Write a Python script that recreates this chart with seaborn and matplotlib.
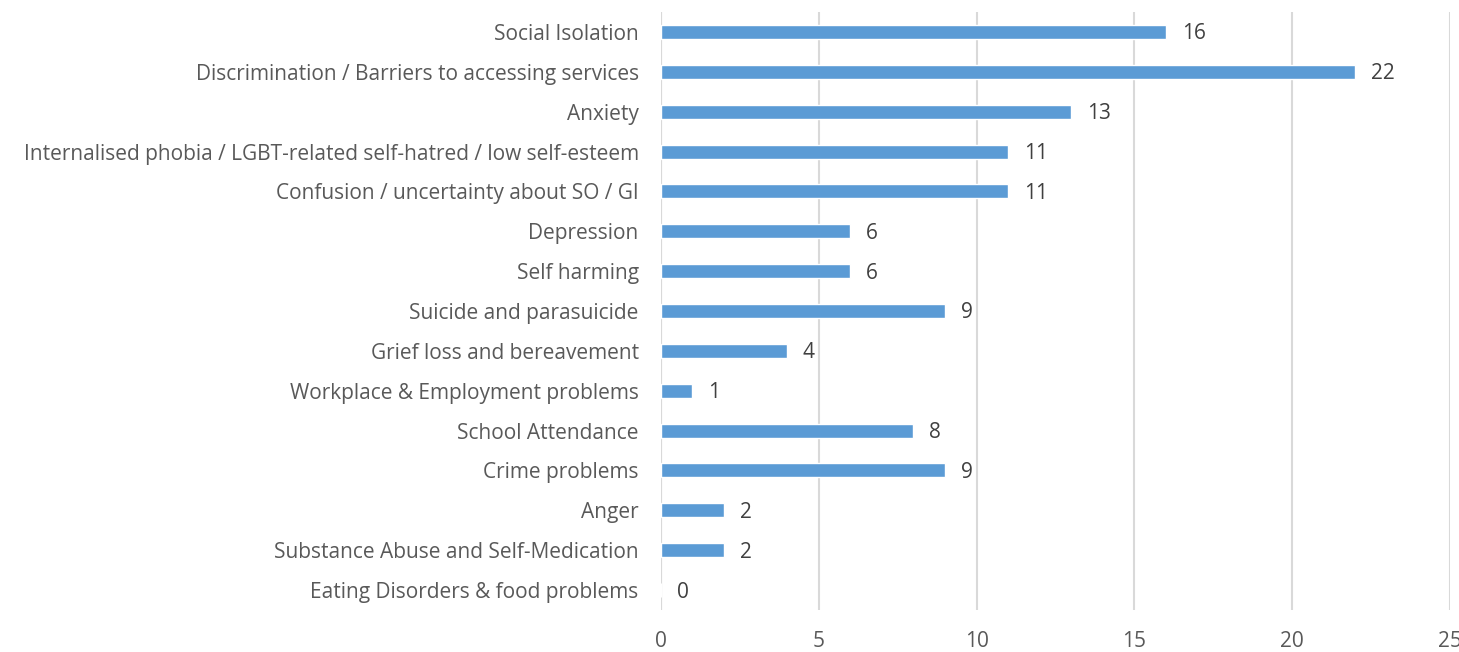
import matplotlib
matplotlib.use("Agg")
import matplotlib.pyplot as plt
import seaborn as sns
import pandas as pd

categories = [
    "Social Isolation",
    "Discrimination / Barriers to accessing services",
    "Anxiety",
    "Internalised phobia / LGBT-related self-hatred / low self-esteem",
    "Confusion / uncertainty about SO / GI",
    "Depression",
    "Self harming",
    "Suicide and parasuicide",
    "Grief loss and bereavement",
    "Workplace & Employment problems",
    "School Attendance",
    "Crime problems",
    "Anger",
    "Substance Abuse and Self-Medication",
    "Eating Disorders & food problems",
]
values = [16, 22, 13, 11, 11, 6, 6, 9, 4, 1, 8, 9, 2, 2, 0]
x_ticks = [0, 5, 10, 15, 20, 25]

df = pd.DataFrame({"category": categories, "value": values})

sns.set_theme(style="white")
plt.rcParams["font.family"] = ["Open Sans", "DejaVu Sans"]

fig = plt.figure(figsize=(14.59, 6.52), dpi=100)
ax = fig.add_axes([0.453, 0.0644, 0.5408, 0.9172])

sns.barplot(data=df, y="category", x="value", orient="h", color="#5B9BD5",
            saturation=1, width=0.35, ax=ax)

ax.set_xlim(0, 25)
ax.set_xticks(x_ticks)
ax.set_xticklabels([str(t) for t in x_ticks])
ax.xaxis.grid(True, color="#D9D9D9", linewidth=1.5)
ax.set_axisbelow(True)
for s in ax.spines.values():
    s.set_visible(False)
ax.axvline(0, color="#D9D9D9", linewidth=1.5, zorder=0)
ax.set_xlabel("")
ax.set_ylabel("")
ax.tick_params(axis="both", length=0, labelsize=15, colors="#595959")
ax.tick_params(axis="x", pad=15)
ax.tick_params(axis="y", pad=16)

for i, v in enumerate(values):
    ax.text(v + 0.5, i + 0.05, str(v), va="center", ha="left", fontsize=15, color="#404040")

fig.savefig("out.png", dpi=100)
